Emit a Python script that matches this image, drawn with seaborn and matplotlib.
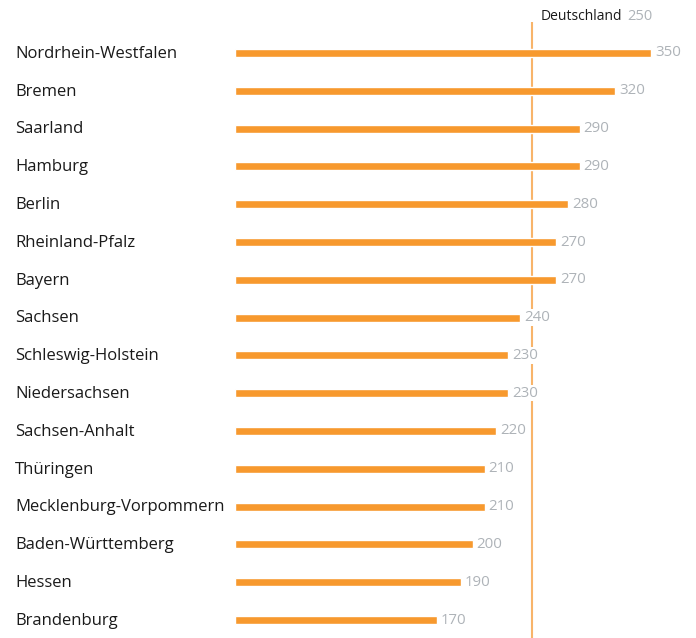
import matplotlib
matplotlib.use('Agg')
import matplotlib.pyplot as plt
import matplotlib.transforms as mtransforms
import seaborn as sns

# Daten
laender = ['Nordrhein-Westfalen', 'Bremen', 'Saarland', 'Hamburg', 'Berlin',
           'Rheinland-Pfalz', 'Bayern', 'Sachsen', 'Schleswig-Holstein',
           'Niedersachsen', 'Sachsen-Anhalt', 'Thüringen',
           'Mecklenburg-Vorpommern', 'Baden-Württemberg', 'Hessen', 'Brandenburg']
werte = [350, 320, 290, 290, 280, 270, 270, 240, 230, 230, 220, 210, 210, 200, 190, 170]
deutschland = 250

BAR = '#F7992E'
LINE = '#F8B46A'
GREY = '#AEB3B8'
TEXT = '#1a1a1a'

sns.set_theme(style='white')
plt.rcParams['font.family'] = ['Open Sans', 'DejaVu Sans']

W, H = 696, 638
fig = plt.figure(figsize=(W / 100, H / 100), dpi=100)
x0 = 235 / W
ax = fig.add_axes([x0, 0, 1 - x0, 1])

sns.barplot(x=werte, y=laender, orient='h', color=BAR, width=0.21,
            saturation=1, ax=ax)

# Skalen: 0 bei Pixel 235, 350 bei Pixel 651
px_per_unit = (651 - 235) / 350
ax.set_xlim(0, (W - 235) / px_per_unit)
row = 37.8
top = -53 / row
bottom = 15 + (H - 620) / row
ax.set_ylim(bottom, top)

# Referenzlinie Deutschland
ax.vlines(deutschland, top + 22 / row, bottom, color=LINE, lw=1.5, zorder=1)
for p in ax.patches:
    p.set_zorder(2)

for i, v in enumerate(werte):
    ax.text(v + 4 / px_per_unit, i, f'{v}', color=GREY, fontsize=10.8,
            va='center', ha='left', zorder=3,
            bbox=dict(facecolor='white', edgecolor='none', pad=0.5))

# Kategorienbeschriftung links
trans = mtransforms.blended_transform_factory(fig.transFigure, ax.transData)
for i, name in enumerate(laender):
    ax.text(15 / W, i + 0.02, name, transform=trans, color=TEXT, fontsize=12,
            va='center', ha='left', clip_on=False)

# Kopfzeile Deutschland (Pixelpositionen)
ax.text(541 / W, 1 - 16 / H, 'Deutschland', transform=fig.transFigure,
        color=TEXT, fontsize=10, va='center', ha='left')
ax.text(627 / W, 1 - 16 / H, f'{deutschland}', transform=fig.transFigure,
        color=GREY, fontsize=10.5, va='center', ha='left')

ax.set_xlabel('')
ax.set_ylabel('')
ax.set_xticks([])
ax.set_yticks([])
sns.despine(ax=ax, left=True, bottom=True)

fig.savefig('out.png', dpi=100)
